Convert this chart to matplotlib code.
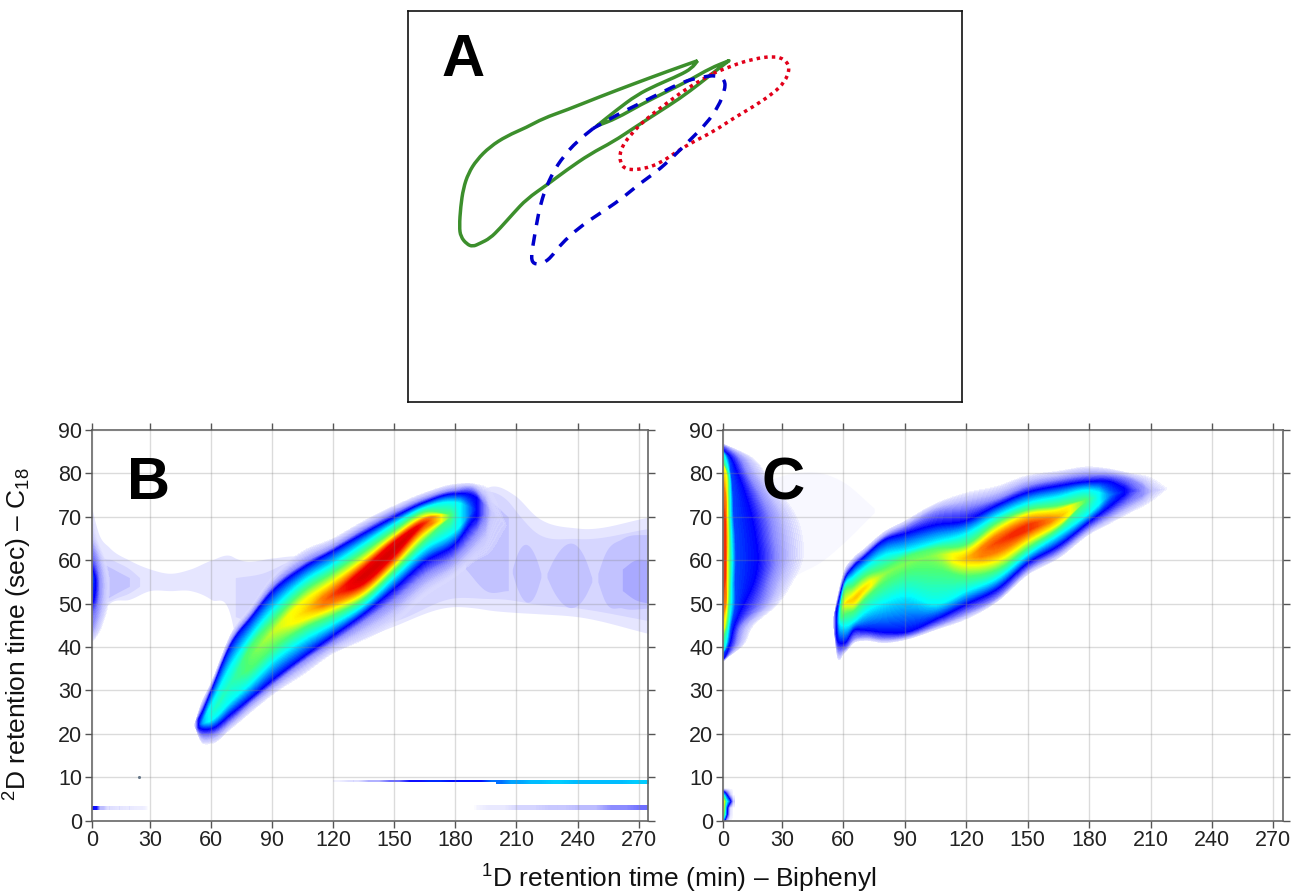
#!/usr/bin/env python3
import numpy as np
import matplotlib
matplotlib.use("Agg")
import matplotlib.pyplot as plt
from matplotlib.colors import LinearSegmentedColormap
from matplotlib.path import Path
from matplotlib.patches import PathPatch

plt.rcParams['font.family'] = ['Liberation Sans', 'DejaVu Sans']
plt.rcParams['mathtext.fontset'] = 'custom'
plt.rcParams['mathtext.rm'] = 'Liberation Sans'
plt.rcParams['mathtext.default'] = 'regular'

# Panel A outlines (doubled points are sharp tips)
green_x = [893, 893, 800, 700, 600, 500, 430, 380, 320, 270, 230, 205, 190, 182, 178, 182, 200, 218, 240, 270, 300,
           340, 380, 440, 500, 570, 640, 700, 770, 840, 900, 950, 987, 987, 930, 870, 800, 720, 650, 590, 590,
           650, 710, 770, 840, 875, 893, 893]
green_y = [182, 182, 215, 252, 290, 330, 355, 382, 408, 440, 480, 520, 565, 620, 680, 710, 732, 740, 730, 715, 685,
           640, 597, 555, 510, 462, 425, 385, 340, 295, 250, 210, 182, 182, 205, 240, 275, 315, 355, 378, 378,
           330, 285, 255, 225, 205, 182, 182]
blue_x = [580, 580, 530, 490, 460, 435, 420, 410, 400, 393, 400, 430, 455, 480, 540, 600, 660, 720, 770, 820, 870,
          920, 955, 975, 975, 950, 900, 850, 790, 720, 650, 580, 580]
blue_y = [385, 385, 425, 470, 515, 570, 620, 670, 730, 770, 793, 790, 770, 735, 680, 640, 600, 550, 515, 470, 420,
          370, 320, 270, 240, 225, 232, 245, 275, 310, 345, 385, 385]
red_x = [940, 1000, 1060, 1120, 1155, 1170, 1155, 1120, 1060, 1000, 940, 880, 830, 780, 730, 680, 660, 660,
         690, 740, 800, 860, 940]
red_y = [220, 195, 177, 168, 178, 205, 245, 280, 320, 355, 395, 425, 455, 490, 507, 510, 490, 450,
         405, 355, 310, 265, 220]

ridge_levels = [0.5, 10, 19, 38, 52, 68, 84, 97]
edge_levels = [0.5, 10, 19, 24, 38, 52, 68, 84, 97]

# Panel B main ridge: 2D time of each level below the crest, crest, then above it
b_x = [52, 55, 60, 70, 80, 90, 105, 120, 135, 150, 165, 180, 190, 197, 205]
b_peak = [0.5, 25, 40, 45, 54, 62, 72, 90, 100, 100, 92, 44, 20, 6, 0.5]
b_ridge = [
    [22, 22, 22, 22, 22, 22, 22, 22, 22, 22, 22, 22, 22, 22, 22, 22, 22],
    [18.5, 20, 21.3, 22.3, 22.3, 22.3, 22.3, 22.3, 22.3, 22.3, 22.3, 22.3, 22.3, 22.3, 24, 25, 26.5],
    [17.8, 19.8, 21.3, 23.2, 24.5, 24.5, 24.5, 24.5, 24.5, 24.5, 24.5, 24.5, 24.5, 26.3, 29.4, 30.3, 31.5],
    [21.3, 23.2, 24.8, 27.8, 31.7, 31.7, 31.7, 31.7, 31.7, 31.7, 31.7, 31.7, 31.7, 35.5, 40.5, 41.3, 43],
    [25.2, 27.5, 28.6, 32, 35.5, 37.8, 37.8, 37.8, 37.8, 37.8, 37.8, 37.8, 40, 42.5, 46.7, 47.5, 49.5],
    [29, 31.3, 32.5, 36.7, 39.8, 43.2, 43.2, 43.2, 43.2, 43.2, 43.2, 43.2, 45.5, 48.2, 52.5, 53.5, 56],
    [33.6, 36.7, 37.8, 41.7, 44.4, 46.3, 47.8, 47.8, 47.8, 47.8, 47.8, 50.2, 52.5, 54.8, 58, 59, 62],
    [38.6, 41.3, 42.8, 45.5, 47.5, 49, 50.5, 52, 52, 52, 53.2, 55, 57, 59, 62, 62.8, 65],
    [41.7, 46, 47.8, 49.8, 51.3, 52.5, 53.6, 54.8, 56.3, 57.8, 59, 60, 61.7, 63.6, 66, 67, 69],
    [45.5, 51, 53.6, 56.3, 57.8, 59, 60, 61.3, 62.5, 64, 64.8, 65.5, 66.7, 68.2, 69.8, 70.8, 72.5],
    [51.7, 56.7, 59.8, 62.8, 64.8, 66.3, 67.5, 68.6, 68.6, 68.6, 69.4, 70, 71, 72, 73.2, 74, 75.5],
    [56.3, 61, 64, 67, 70.5, 70.5, 70.5, 70.5, 70.5, 70.5, 70.5, 70.5, 70.5, 73.2, 75.2, 76, 77.5],
    [60, 66.3, 69.8, 71.7, 71.7, 71.7, 71.7, 71.7, 71.7, 71.7, 71.7, 71.7, 71.7, 71.7, 74.4, 75.8, 77.5],
    [62, 71, 71, 71, 71, 71, 71, 71, 71, 71, 71, 71, 71, 71, 71, 71, 76],
    [68, 68, 68, 68, 68, 68, 68, 68, 68, 68, 68, 68, 68, 68, 68, 68, 68],
]

# Panel B pale background bands: 1D stations, lower edge, upper edge
pale1_x = [0, 5, 10, 20, 30, 40, 50, 60, 70, 72, 75, 90, 100, 120, 135, 149, 179, 190, 197, 209, 220, 240, 276]
pale1_lo = [40, 47, 50, 51, 53, 53, 53, 51, 46.5, 42, 38, 36, 38, 39, 42, 44.7, 49.3, 49, 48.5, 48, 47.7, 47, 43]
pale1_hi = [75, 66, 63, 60, 58, 57, 58, 60, 61, 60.5, 60, 60.5, 61, 60, 63, 66, 72, 75, 77, 75, 70, 67.4, 70]
pale2_left_x = [0, 5, 12, 20, 25]
pale2_left_lo = [45, 49, 51, 52.5, 54]
pale2_left_hi = [70, 62, 60, 58, 56]
pale2_mid_x = [72, 85, 100, 110]
pale2_mid_lo = [47, 45, 45, 50]
pale2_mid_hi = [56, 57, 60, 61]
pale2_right_x = [120, 150, 179, 195, 205, 212, 218, 240, 276]
pale2_right_lo = [44, 46, 51.3, 51.2, 51, 50.5, 50, 49, 46]
pale2_right_hi = [60, 68, 72, 76, 74, 70, 67, 65, 67.4]
pale3_left_x = [0, 5, 12, 20]
pale3_left_lo = [48, 50, 52, 54]
pale3_left_hi = [63, 60, 58, 56]
pale3_a_x = [185, 195, 206]
pale3_a_lo = [58, 53, 53]
pale3_a_hi = [72, 74, 70]
pale3_b_x = [208, 210, 220, 222]
pale3_b_lo = [57, 54, 53, 56]
pale3_b_hi = [58, 61, 60, 57]
pale3_c_x = [225, 228, 244, 247]
pale3_c_lo = [56, 53, 52, 55]
pale3_c_hi = [57, 60, 60, 56]
pale3_d_x = [250, 253, 262, 276]
pale3_d_lo = [55, 51, 49, 49]
pale3_d_hi = [57, 61, 65, 66]
pale4_x = [262, 268, 276]
pale4_lo = [53, 51, 50]
pale4_hi = [58, 60, 60]

# Panel B blue core on the left edge: 1D time of each level, far to near, at each 2D time
b_edge_y = [41, 42, 47, 52, 56, 60, 65, 73, 75]
b_edge_peak = [0.5, 5, 12, 22, 24, 16, 8, 1, 0.5]
b_edge = [
    [1, 0, 0, 0, 0, 0, 0, 0, 0],
    [3, 0, 0, 0, 0, 0, 0, 0, 0],
    [8, 3, 0, 0, 0, 0, 0, 0, 0],
    [10, 5, 2.8, 0, 0, 0, 0, 0, 0],
    [10, 5, 3, 1.5, 0, 0, 0, 0, 0],
    [8, 3.5, 0, 0, 0, 0, 0, 0, 0],
    [4, 0, 0, 0, 0, 0, 0, 0, 0],
    [1.5, 0, 0, 0, 0, 0, 0, 0, 0],
    [1, 0, 0, 0, 0, 0, 0, 0, 0],
]

# Panel B thin streaks along the bottom
streak9a_x = [120, 130, 140, 150, 160, 170, 180, 190, 200]
streak9a = [1, 3, 7, 12, 18, 22, 20, 20, 27]
streak9b_x = [200, 210, 220, 230, 240, 250, 260, 270, 280]
streak9b = [27, 31, 33, 34, 33, 33, 33, 34, 34]
streak3_left_x = [0, 3, 6, 10, 15, 20, 25, 30]
streak3_left = [24, 18, 6, 3, 2.5, 2, 1.5, 0]
streak3_right_x = [185, 200, 215, 230, 245, 260, 275]
streak3_right = [0, 2, 4, 5, 6, 10, 12]

# Panel C main ridge, same layout as panel B
c_x = [55, 57, 60, 65, 70, 80, 90, 105, 120, 135, 150, 165, 180, 190, 200, 210, 218]
c_peak = [0.5, 22, 62, 74, 72, 58, 56, 58, 76, 90, 92, 78, 48, 28, 16, 6, 0.5]
c_ridge = [
    [46, 46, 46, 46, 46, 46, 46, 46, 46, 46, 46, 46, 46, 46, 46, 46, 46],
    [38, 40, 42, 46, 46, 46, 46, 46, 46, 46, 46, 46, 46, 46, 49, 50, 51],
    [38.5, 39.5, 41, 45, 47.5, 49.4, 49.4, 49.4, 49.4, 49.4, 49.4, 49.4, 52, 53, 54.5, 55.5, 56.8],
    [41, 42, 44, 46, 48.5, 50, 51, 51, 51, 51, 51, 52, 54, 56, 58.4, 59.2, 60.5],
    [41.5, 42.5, 44, 48, 51, 52.6, 53.4, 53.4, 53.4, 53.4, 53.4, 54, 56, 58, 60.5, 61.3, 62.5],
    [41, 42, 43.5, 50.5, 55, 56.8, 56.8, 56.8, 56.8, 56.8, 56.8, 56.8, 58, 61, 64.5, 65.3, 66.5],
    [41.7, 42.5, 43.5, 52, 57.5, 59, 59, 59, 59, 59, 59, 59, 60.5, 62, 66, 67.5, 69],
    [44, 45, 46.5, 50, 58, 61, 61, 61, 61, 61, 61, 61, 62.5, 64, 68, 71, 73],
    [46.5, 48, 50, 53, 56.5, 59, 60.5, 60.5, 60.5, 60.5, 60.5, 62, 63.5, 66, 69, 72.2, 75.5],
    [50.5, 51.5, 53.5, 56, 58, 60, 62, 64, 64, 64, 65.5, 67, 68.5, 70, 72.5, 74, 77],
    [56.7, 58, 59.5, 61.5, 63, 64.5, 66, 67, 67.5, 68, 69, 70.5, 71.5, 73, 75.5, 77, 79.5],
    [60.5, 62, 63.5, 66, 67.5, 68.5, 70, 70, 70, 70, 70, 71.5, 72.5, 74.5, 77, 78.5, 80.5],
    [66, 67.5, 69, 71, 74, 74, 74, 74, 74, 74, 74, 74, 74, 76, 78, 79.5, 81.5],
    [68.5, 70.5, 72.5, 75, 75, 75, 75, 75, 75, 75, 75, 75, 75, 75, 78, 79.5, 81],
    [71, 73.5, 76, 76, 76, 76, 76, 76, 76, 76, 76, 76, 76, 76, 76, 78.5, 80],
    [73.5, 76, 76, 76, 76, 76, 76, 76, 76, 76, 76, 76, 76, 76, 76, 76, 79],
    [76.5, 76.5, 76.5, 76.5, 76.5, 76.5, 76.5, 76.5, 76.5, 76.5, 76.5, 76.5, 76.5, 76.5, 76.5, 76.5, 76.5],
]

# Panel C band on the left edge
c_edge_y = [36.5, 37.5, 40, 45, 50, 55, 60, 65, 70, 75, 80, 84, 86, 86.8]
c_edge_peak = [0.5, 20, 42, 70, 86, 92, 92, 92, 92, 88, 76, 42, 18, 0.5]
c_edge = [
    [1, 0, 0, 0, 0, 0, 0, 0, 0],
    [3, 2.2, 1.6, 0, 0, 0, 0, 0, 0],
    [10, 6.4, 3.8, 3, 2, 0, 0, 0, 0],
    [16, 10, 6.5, 5, 3.8, 2.8, 1.8, 0, 0],
    [28, 20, 11, 7, 5, 3.8, 3, 2.4, 0],
    [35, 24, 16, 7, 5.2, 4.2, 3.2, 2.6, 2],
    [40, 27, 18, 7.2, 5.5, 4.3, 3.2, 2.8, 2.3],
    [40, 26, 17, 7, 5.2, 4.2, 3.4, 2.8, 2.2],
    [37, 24, 15, 6.2, 4.8, 4, 3.2, 2.6, 2],
    [30, 19, 12, 5.8, 4.6, 3.8, 3, 2.3, 0],
    [22, 13, 8, 4.8, 4, 3.2, 2.5, 0, 0],
    [14, 8, 4, 3, 1.8, 0, 0, 0, 0],
    [5, 2.5, 0, 0, 0, 0, 0, 0, 0],
    [1, 0, 0, 0, 0, 0, 0, 0, 0],
]

# Panel C spot near the origin: rows 0, 1.5, ... 7.5 sec, columns 0, 1.5, ... 6 min
c_spot = [
    [40, 25, 5, 0, 0],
    [70, 60, 22, 3, 0],
    [85, 70, 24, 4, 0],
    [95, 75, 40, 24, 5],
    [70, 40, 20, 6, 0],
    [0, 0, 0, 0, 0],
]

# Panel C faint scatter
scatter_x = [20, 35, 50, 60, 75]
scatter_lo = [50, 56, 60, 64, 71]
scatter_hi = [78, 80, 80, 78, 72]

x_ticks = [0, 30, 60, 90, 120, 150, 180, 210, 240, 270]
y_ticks = [0, 10, 20, 30, 40, 50, 60, 70, 80, 90]

chroma = LinearSegmentedColormap.from_list("chroma", [
    (0.00, (0.9, 0.9, 1, 0)),
    (0.005, (0.88, 0.88, 1, 0.35)),
    (0.05, (0.78, 0.78, 1, 1)),
    (0.10, (0.55, 0.55, 1, 1)),
    (0.19, (0, 0, 1, 1)),
    (0.29, (0, 0.55, 1, 1)),
    (0.38, (0, 1, 1, 1)),
    (0.52, (0.3, 1, 0.45, 1)),
    (0.68, (1, 1, 0, 1)),
    (0.84, (1, 0.5, 0, 1)),
    (0.97, (0.95, 0, 0, 1)),
    (1.00, (0.85, 0, 0, 1)),
], N=512)
shade_levels = np.linspace(0.5, 100, 160)


def smooth_line(ax, xs, ys, **kw):
    # Quadratic Bezier through the midpoints of the read points
    pts = np.column_stack([xs, ys]).astype(float)
    verts = [pts[0]]
    codes = [Path.MOVETO]
    for i in range(1, len(pts) - 1):
        verts += [pts[i], (pts[i] + pts[i + 1]) / 2]
        codes += [Path.CURVE3, Path.CURVE3]
    verts.append(pts[-1])
    codes.append(Path.LINETO)
    ax.add_patch(PathPatch(Path(verts, codes), fill=False, **kw))


def hermite(xs, col, fine):
    # Cubic drawing curve through the stations, so the bands have no kinks
    xs = np.asarray(xs, dtype=float)
    col = np.asarray(col, dtype=float)
    slopes = np.gradient(col, xs)
    i = np.clip(np.searchsorted(xs, fine, side='right') - 1, 0, len(xs) - 2)
    h = xs[i + 1] - xs[i]
    t = (fine - xs[i]) / h
    return ((2 * t**3 - 3 * t**2 + 1) * col[i] + (t**3 - 2 * t**2 + t) * h * slopes[i]
            + (-2 * t**3 + 3 * t**2) * col[i + 1] + (t**3 - t**2) * h * slopes[i + 1])


def refine(stations, table, peaks):
    fine = np.arange(stations[0], stations[-1] + 0.25, 0.5)
    grid = np.column_stack([hermite(stations, col, fine) for col in np.array(table, dtype=float).T])
    tops = np.clip(hermite(stations, peaks, fine), 0.5, 100)
    return fine, grid, tops


def draw_ridge(ax, xs, peaks, edges):
    # Contour fill on a grid bent along the ridge
    row_levels = ridge_levels + [100] + ridge_levels[::-1]
    fine, y, tops = refine(xs, edges, peaks)
    x = np.repeat(fine[:, None], y.shape[1], axis=1)
    z = np.minimum(np.array(row_levels)[None, :], tops[:, None])
    ax.contourf(x, y, z, levels=shade_levels, cmap=chroma, vmin=0, vmax=100, zorder=2)


def draw_edge(ax, ys, peaks, edges):
    # Same idea, sideways: levels run from far out back to the axis at x = 0
    row_levels = edge_levels + [100]
    fine, x, tops = refine(ys, edges, peaks)
    x = np.column_stack([np.maximum(x, 0), np.zeros(len(fine))])
    y = np.repeat(fine[:, None], x.shape[1], axis=1)
    z = np.minimum(np.array(row_levels)[None, :], tops[:, None])
    ax.contourf(x, y, z, levels=shade_levels, cmap=chroma, vmin=0, vmax=100, zorder=2)


def band(ax, xs, lo, hi, color):
    fine = np.arange(xs[0], xs[-1] + 0.25, 0.5)
    ax.fill_between(fine, hermite(xs, lo, fine), hermite(xs, hi, fine), color=color, linewidth=0, zorder=1)


def streak(ax, xs, vals, y0, y1):
    for i in range(len(xs) - 1):
        ax.imshow([[vals[i], vals[i + 1]]], aspect='auto', cmap=chroma, vmin=0, vmax=100,
                  extent=(xs[i], xs[i + 1], y0, y1), interpolation='bilinear', zorder=2)


def style_axes(ax, xmin, xmax):
    ax.set_xlim(xmin, xmax)
    ax.set_ylim(0, 90)
    ax.set_xticks([xmin] + x_ticks[1:])
    ax.set_xticklabels([str(t) for t in x_ticks])
    ax.set_yticks(y_ticks)
    ax.tick_params(axis='both', direction='out', length=5, width=1, color='#555555',
                   top=True, right=True, labelsize=15.5, pad=2, labelcolor='#222222')
    ax.grid(True, color='#888888', alpha=0.3, linewidth=1)
    ax.set_axisbelow(False)
    for spine in ax.spines.values():
        spine.set_color('#666666')
        spine.set_linewidth(1.2)


W, H = 1291, 896
fig = plt.figure(figsize=(W / 100, H / 100), dpi=100)


def axes_px(left, right, top, bottom):
    return fig.add_axes([left / W, 1 - bottom / H, (right - left) / W, (bottom - top) / H])


# Panel A
ax_a = axes_px(408, 962, 11, 402)
ax_a.set_xlim(24, 1686)
ax_a.set_ylim(1206, 33)
ax_a.set_xticks([])
ax_a.set_yticks([])
for spine in ax_a.spines.values():
    spine.set_color('#111111')
    spine.set_linewidth(1.2)
smooth_line(ax_a, green_x, green_y, edgecolor='#3C8F2C', linewidth=2.5, joinstyle='round', zorder=2)
smooth_line(ax_a, red_x, red_y, edgecolor='#E2001A', linewidth=2.5, linestyle=(0, (1, 1.2)), zorder=3)
smooth_line(ax_a, blue_x, blue_y, edgecolor='#0000CC', linewidth=2.5, linestyle=(0, (3.3, 2.7)), zorder=4)
ax_a.text(124, 228, 'A', fontsize=43, fontweight='bold', color='black', ha='left', va='baseline')

# Panel B
ax_b = axes_px(91.7, 648, 430, 820.7)
band(ax_b, pale1_x, pale1_lo, pale1_hi, '#E6E6FF')
band(ax_b, pale2_left_x, pale2_left_lo, pale2_left_hi, '#D6D6FF')
band(ax_b, pale2_mid_x, pale2_mid_lo, pale2_mid_hi, '#D6D6FF')
band(ax_b, pale2_right_x, pale2_right_lo, pale2_right_hi, '#D6D6FF')
for xs, lo, hi in [(pale3_left_x, pale3_left_lo, pale3_left_hi), (pale3_a_x, pale3_a_lo, pale3_a_hi),
                   (pale3_b_x, pale3_b_lo, pale3_b_hi), (pale3_c_x, pale3_c_lo, pale3_c_hi),
                   (pale3_d_x, pale3_d_lo, pale3_d_hi)]:
    band(ax_b, xs, lo, hi, '#C2C2FF')
band(ax_b, pale4_x, pale4_lo, pale4_hi, '#A9A9FF')
draw_ridge(ax_b, b_x, b_peak, b_ridge)
draw_edge(ax_b, b_edge_y, b_edge_peak, b_edge)
streak(ax_b, streak9a_x, streak9a, 8.8, 9.2)
streak(ax_b, streak9b_x, streak9b, 8.5, 9.4)
streak(ax_b, streak3_left_x, streak3_left, 2.4, 3.2)
streak(ax_b, streak3_right_x, streak3_right, 2.4, 3.4)
ax_b.scatter([24.5], [10], s=5, color='#667788', linewidths=0, zorder=3)
style_axes(ax_b, 1.5, 274.6)
ax_b.text(19, 74, 'B', fontsize=43, fontweight='bold', color='black', ha='left', va='baseline')

# Panel C
ax_c = axes_px(723, 1283, 430, 820.7)
band(ax_c, scatter_x, scatter_lo, scatter_hi, '#F8F8FF')
draw_ridge(ax_c, c_x, c_peak, c_ridge)
draw_edge(ax_c, c_edge_y, c_edge_peak, c_edge)
ax_c.imshow(c_spot, origin='lower', aspect='auto', cmap=chroma, vmin=0, vmax=100,
            extent=(-0.75, 6.75, -0.75, 8.25), interpolation='bilinear', zorder=2)
style_axes(ax_c, 1.2, 274.7)
ax_c.text(20, 74, 'C', fontsize=43, fontweight='bold', color='black', ha='left', va='baseline')

fig.text(679 / W, 1 - 879 / H, '$^{1}$D retention time (min) – Biphenyl', fontsize=19,
         ha='center', va='center', color='#111111')
fig.text(18 / W, 1 - 634 / H, '$^{2}$D retention time (sec) – C$_{18}$', fontsize=19,
         ha='center', va='center', rotation=90, color='#111111')

fig.savefig("out.png", dpi=100)
